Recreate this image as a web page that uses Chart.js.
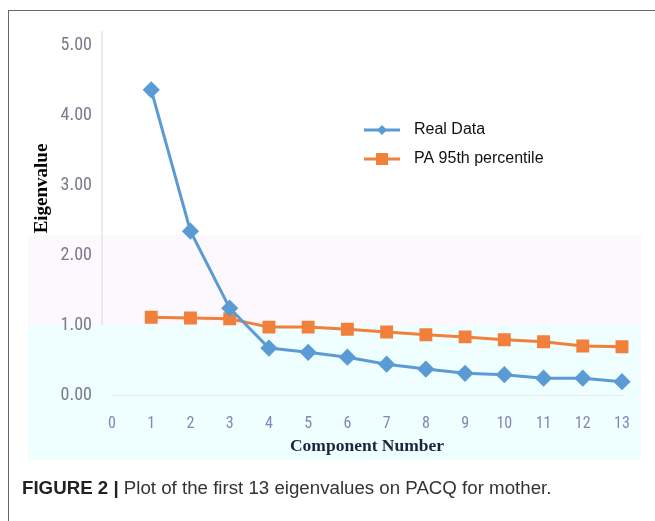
<!DOCTYPE html>
<html lang="en">
<head>
    <meta charset="UTF-8">
    <title>Eigenvalues PACQ mother</title>
    <script src="https://cdn.jsdelivr.net/npm/chart.js"></script>
    <style>
        html, body { margin: 0; padding: 0; background: #fff; }
        .page { position: relative; width: 655px; height: 521px; overflow: hidden; }
        .frame { position: absolute; left: 8px; top: 10px; right: -2px; bottom: -2px; border: 1.5px solid #666; }
        .band { position: absolute; left: 28px; width: 613px; }
        .pink { top: 235px; height: 90px; background: #fdf8fd; }
        .cyan { top: 325px; height: 135px; background: #effeff; }
        .chart { position: absolute; left: 0; top: 0; width: 655px; height: 521px; }
        .caption { position: absolute; left: 22px; top: 477px; font: 18.7px "Liberation Sans", Arial, sans-serif; color: #333; white-space: nowrap; }
        .caption b { color: #222; }
    </style>
</head>
<body>
    <div class="page">
        <div class="frame"></div>
        <div class="band pink"></div>
        <div class="band cyan"></div>
        <div class="chart"><canvas id="myChart" width="655" height="521"></canvas></div>
        <div class="caption"><b>FIGURE 2 |</b> Plot of the first 13 eigenvalues on PACQ for mother.</div>
    </div>

    <script>
        const components = [1, 2, 3, 4, 5, 6, 7, 8, 9, 10, 11, 12, 13];
        const realData = [4.36, 2.34, 1.24, 0.67, 0.61, 0.54, 0.44, 0.37, 0.31, 0.29, 0.24, 0.24, 0.19];
        const pa95 = [1.11, 1.10, 1.09, 0.97, 0.97, 0.94, 0.90, 0.86, 0.83, 0.79, 0.76, 0.70, 0.69];
        const yTicks = [0, 1, 2, 3, 4, 5];
        const seriesNames = ['Real Data', 'PA 95th percentile'];

        const blue = '#5b9bd5';
        const orange = '#f0803c';
        const tickFont = '"Liberation Sans Narrow", "Roboto Condensed", Lato, sans-serif';

        // legend inside the plot, y title and the short axis line
        const extras = {
            id: 'extras',
            afterDraw(chart) {
                const ctx = chart.ctx;
                const y = chart.scales.y;
                const x = chart.scales.x;

                // y axis line only runs down to 1.00
                ctx.save();
                ctx.strokeStyle = '#d9d9d9';
                ctx.lineWidth = 1;
                ctx.beginPath();
                ctx.moveTo(x.left - 10, y.top);
                ctx.lineTo(x.left - 10, y.getPixelForValue(1));
                ctx.stroke();

                // y title
                ctx.translate(42, y.getPixelForValue(2.95));
                ctx.rotate(-Math.PI / 2);
                ctx.font = 'bold 19px "Liberation Serif", serif';
                ctx.fillStyle = '#000';
                ctx.textAlign = 'center';
                ctx.textBaseline = 'middle';
                ctx.fillText('Eigenvalue', 0, 0);
                ctx.restore();

                // legend
                ctx.save();
                ctx.font = '16px "Liberation Sans", Arial, sans-serif';
                ctx.textBaseline = 'middle';
                chart.data.datasets.forEach((ds, i) => {
                    const ly = 130 + i * 29;
                    ctx.strokeStyle = ds.borderColor;
                    ctx.lineWidth = 3;
                    ctx.beginPath();
                    ctx.moveTo(364, ly);
                    ctx.lineTo(400, ly);
                    ctx.stroke();
                    ctx.fillStyle = ds.backgroundColor;
                    if (ds.pointStyle === 'rect') {
                        ctx.fillRect(376, ly - 6, 12, 12);
                    } else {
                        ctx.beginPath();
                        ctx.moveTo(382, ly - 5);
                        ctx.lineTo(387, ly);
                        ctx.lineTo(382, ly + 5);
                        ctx.lineTo(377, ly);
                        ctx.closePath();
                        ctx.fill();
                    }
                    ctx.fillStyle = '#111';
                    ctx.fillText(ds.label, 414, ly);
                });
                ctx.restore();
            }
        };

        const config = {
            type: 'line',
            data: {
                datasets: [{
                    label: seriesNames[0],
                    data: components.map((c, i) => ({ x: c, y: realData[i] })),
                    borderColor: blue,
                    backgroundColor: blue,
                    borderWidth: 3,
                    pointStyle: 'rectRot',
                    pointRadius: 6.5,
                    pointHoverRadius: 6.5,
                    clip: false
                }, {
                    label: seriesNames[1],
                    data: components.map((c, i) => ({ x: c, y: pa95[i] })),
                    borderColor: orange,
                    backgroundColor: orange,
                    borderWidth: 3,
                    pointStyle: 'rect',
                    pointRadius: 7,
                    pointHoverRadius: 7,
                    clip: false
                }]
            },
            options: {
                responsive: false,
                animation: false,
                layout: { padding: { top: 31, right: 33, bottom: 64, left: 0 } },
                plugins: {
                    legend: { display: false },
                    tooltip: { enabled: false }
                },
                scales: {
                    x: {
                        type: 'linear',
                        min: 0,
                        max: 13,
                        grid: { display: false },
                        border: { display: true, color: '#e6eef3' },
                        ticks: {
                            stepSize: 1,
                            padding: 11,
                            color: '#8585b4',
                            font: { family: tickFont, size: 16 }
                        },
                        title: {
                            display: true,
                            text: 'Component Number',
                            color: '#1c2540',
                            font: { family: '"Liberation Serif", serif', size: 17.5, weight: 'bold' },
                            padding: { top: 4, bottom: 0 }
                        },
                        afterFit(scale) { scale.height = 62; }
                    },
                    y: {
                        min: 0,
                        max: 5.2,
                        grid: { display: false },
                        border: { display: false },
                        afterBuildTicks(scale) {
                            scale.ticks = yTicks.map(v => ({ value: v }));
                        },
                        ticks: {
                            padding: 12,
                            color: '#7a7a8c',
                            font: { family: tickFont, size: 18 },
                            callback: v => v.toFixed(2)
                        },
                        afterFit(scale) { scale.width = 112; }
                    }
                }
            },
            plugins: [extras]
        };

        const ctx = document.getElementById('myChart').getContext('2d');
        const myChart = new Chart(ctx, config);
    </script>
</body>
</html>
